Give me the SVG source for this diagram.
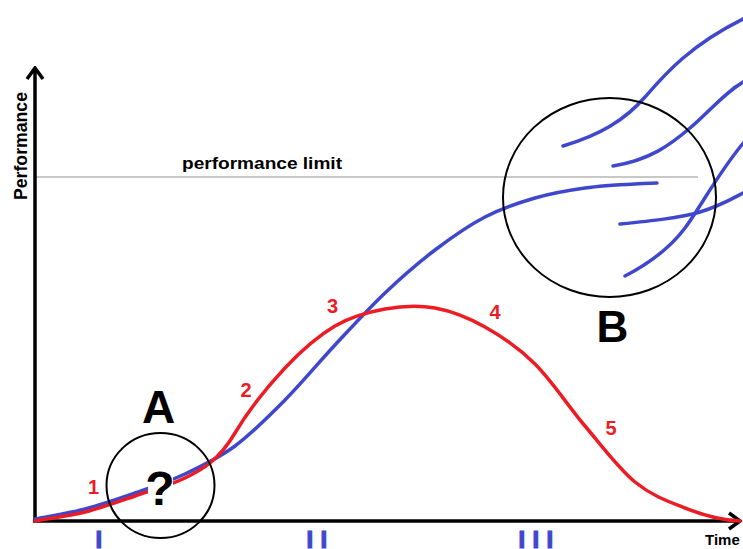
<svg xmlns="http://www.w3.org/2000/svg" width="743" height="549" viewBox="0 0 743 549">
<style>
.axis{stroke:#000;stroke-width:3.5;fill:none}
.red{stroke:#ed1c24;stroke-width:3.5;fill:none;stroke-linecap:round}
.blue{stroke:#3f48cc;stroke-width:3.5;fill:none;stroke-linecap:round}
.ring{stroke:#000;stroke-width:2;fill:none}
.num{font-family:"Liberation Sans",Arial,sans-serif;font-weight:bold;font-size:20px;fill:#ed1c24;text-anchor:middle}
.big{font-family:"Liberation Sans",Arial,sans-serif;font-weight:bold;fill:#000;text-anchor:middle}
.roman{font-family:"Liberation Sans",Arial,sans-serif;font-weight:bold;font-size:24px;fill:#3f48cc;stroke:#3f48cc;stroke-width:1.2;letter-spacing:7.3px}
.lbl{font-family:"Liberation Sans",Arial,sans-serif;font-weight:bold;fill:#000}
</style>
<defs>
<marker id="arr" viewBox="-14 -10 16 20" markerWidth="16" markerHeight="20" refX="0" refY="0" orient="auto" markerUnits="userSpaceOnUse">
<path d="M-11,-8 L0,0 L-11,8" fill="none" stroke="#000" stroke-width="3.5"/>
</marker>
</defs>
<rect width="743" height="549" fill="#fff"/>
<g id="limit">
<line x1="35" y1="177" x2="698" y2="177" stroke="#c8c8c8" stroke-width="2"/>
<text class="lbl" x="182" y="169" font-size="16" textLength="160" lengthAdjust="spacingAndGlyphs">performance limit</text>
</g>
<g id="axes">
<line class="axis" x1="35" y1="522" x2="35" y2="68" marker-end="url(#arr)"/>
<line class="axis" x1="33" y1="521" x2="740" y2="521" marker-end="url(#arr)"/>
<text class="lbl" font-size="18" transform="translate(27,200) rotate(-90)" textLength="108" lengthAdjust="spacingAndGlyphs">Performance</text>
<text class="lbl" font-size="15" x="705" y="545">Time</text>
</g>
<g id="connectors">
<path id="blue-curve" class="blue" d="M35,519 C51.67,515.67 68.33,513.33 85,509 C101.67,504.67 118.33,498.83 135,493 C151.67,487.17 168.33,481.83 185,474 C201.67,466.17 218.33,458.33 235,446 C251.67,433.67 268.33,416.83 285,400 C301.67,383.17 318.33,362.83 335,345 C351.67,327.17 368.33,308.83 385,293 C401.67,277.17 418.33,262.67 435,250 C451.67,237.33 468.33,225.67 485,217 C501.67,208.33 518.33,202.83 535,198 C551.67,193.17 568.33,190.33 585,188 C601.67,185.67 618.33,184.83 635,184 C642.3,183.7 649.7,183 657,183"/>
<path id="red-curve" class="red" d="M35,521 C51.67,518 68.33,516.17 85,512 C101.67,507.83 118.33,501.67 135,496 C151.67,490.33 168.33,486 185,478 C201.67,470 218.33,461 235,433 C251.67,405 268.33,385.83 285,368 C301.67,350.17 318.33,335.83 335,326 C351.67,316.17 368.33,312 385,309 C401.67,306 418.33,305 435,308 C451.67,311 468.33,317.67 485,327 C501.67,336.33 518.33,347.5 535,364 C551.67,380.5 568.33,406.33 585,426 C601.67,445.67 618.33,468.33 635,482 C651.67,495.67 668.33,501.5 685,508 C703.3,515.2 722,520.3 740,521"/>
<path class="blue" d="M563,146 C600,135 625,120 645,97 S690,45 745,18"/>
<path class="blue" d="M613,166 C650,160 670,145 690,128 S725,92 745,81"/>
<path class="blue" d="M620,224 C650,221 680,218 700,212 S730,200 745,192"/>
<path class="blue" d="M625,276 C650,263 670,248 685,228 S720,170 745,141"/>
</g>
<g id="region-A">
<rect x="148" y="468" width="25" height="34" fill="#fff"/>
<ellipse class="ring" cx="160.5" cy="485.5" rx="54" ry="52.5"/>
<text class="big" x="160" y="505" font-size="48">?</text>
<text class="big" x="158.5" y="423" font-size="46">A</text>
</g>
<g id="region-B">
<ellipse class="ring" cx="609.5" cy="197.5" rx="106.5" ry="99.5"/>
<text class="big" x="612.5" y="342" font-size="44">B</text>
</g>
<g id="stage-labels">
<text class="num" x="93.5" y="494">1</text>
<text class="num" x="246" y="397">2</text>
<text class="num" x="332.5" y="313">3</text>
<text class="num" x="495" y="319">4</text>
<text class="num" x="611" y="435">5</text>
</g>
<g id="phases">
<text class="roman" x="95.5" y="548">I</text>
<text class="roman" x="306.5" y="548">II</text>
<text class="roman" x="518.5" y="548">III</text>
</g>
</svg>
